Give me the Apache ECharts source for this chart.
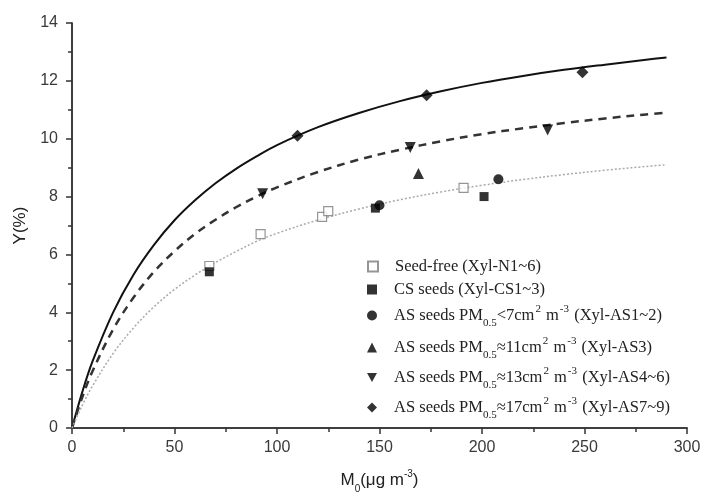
<!DOCTYPE html>
<html>
<head>
<meta charset="utf-8">
<script src="https://cdn.jsdelivr.net/npm/echarts@6/dist/echarts.min.js"></script>
<style>
  html, body { margin: 0; padding: 0; background: #fff; }
  #chart { width: 703px; height: 494px; }
</style>
</head>
<body>
<div id="chart"></div>
<script>
// Measured yields: [M0 (µg m^-3), Y (%)]
const seedFree = [[67, 5.6], [92, 6.7], [122, 7.3], [125, 7.5], [191, 8.3]];
const csSeeds  = [[67, 5.4], [148, 7.6], [201, 8.0]];
const asLt7    = [[150, 7.7], [208, 8.6]];
const as11     = [[169, 8.8]];
const as13     = [[93, 8.1], [165, 9.7], [232, 10.3]];
const as17     = [[110, 10.1], [173, 11.5], [249, 12.3]];

// Fitted yield curves sampled along M0
const curveX    = [0, 5, 10, 20, 30, 40, 50, 60, 70, 80, 90, 100, 120, 140, 160, 180, 200, 220, 240, 260, 280, 290];
const fitSolid  = [0, 1.24, 2.30, 3.99, 5.30, 6.33, 7.18, 7.87, 8.46, 8.96, 9.39, 9.78, 10.40, 10.89, 11.30, 11.64, 11.93, 12.17, 12.38, 12.56, 12.73, 12.81];
const fitDashed = [0, 1.06, 1.96, 3.40, 4.51, 5.40, 6.11, 6.71, 7.20, 7.63, 8.00, 8.32, 8.85, 9.28, 9.62, 9.91, 10.16, 10.36, 10.54, 10.70, 10.84, 10.90];
const fitDotted = [0, 0.78, 1.45, 2.57, 3.46, 4.19, 4.79, 5.29, 5.72, 6.10, 6.45, 6.73, 7.19, 7.57, 7.89, 8.16, 8.39, 8.59, 8.76, 8.91, 9.04, 9.10];

// Legend entries (rich text: s = subscript, p = superscript)
const legendNames = ['seedFree', 'cs', 'asLt7', 'as11', 'as13', 'as17'];
const legendTexts = [
  'Seed-free (Xyl-N1~6)',
  'CS seeds (Xyl-CS1~3)',
  'AS seeds PM{s|0.5}<7cm{p|2} m{p|-3} (Xyl-AS1~2)',
  'AS seeds PM{s|0.5}\u224811cm{p|2} m{p|-3} (Xyl-AS3)',
  'AS seeds PM{s|0.5}\u224813cm{p|2} m{p|-3} (Xyl-AS4~6)',
  'AS seeds PM{s|0.5}\u224817cm{p|2} m{p|-3} (Xyl-AS7~9)'
];
const legendTops = [253, 276, 299, 331, 361, 391];

const downTriangle = 'path://M0,0 L10,0 L5,9 Z';
const symbols = ['rect', 'rect', 'circle', 'triangle', downTriangle, 'diamond'];
const sizes = [9, 9, 10, 11, 11, 12];
const datasets = [seedFree, csSeeds, asLt7, as11, as13, as17];

const pair = (xs, ys) => xs.map((x, i) => [x, ys[i]]);

const serifRich = {
  s: { fontFamily: 'Liberation Serif', fontSize: 11, color: '#222', verticalAlign: 'bottom', padding: [0, 0, -5, 0] },
  p: { fontFamily: 'Liberation Serif', fontSize: 11, color: '#222', verticalAlign: 'top', padding: [-3, 1, 0, 1] }
};

const scatterSeries = datasets.map((d, i) => ({
  name: legendNames[i],
  type: 'scatter',
  data: d,
  symbol: symbols[i],
  symbolSize: sizes[i],
  itemStyle: i === 0
    ? { color: '#ffffff', borderColor: '#7a7a7a', borderWidth: 1.2 }
    : { color: '#000000' },
  z: 5
}));

const lineStyleBase = { type: 'line', showSymbol: false, symbol: 'none', smooth: 0.35, silent: true, z: 3 };
const lineSeries = [
  Object.assign({}, lineStyleBase, { data: pair(curveX, fitSolid), lineStyle: { color: '#111', width: 2, type: 'solid' } }),
  Object.assign({}, lineStyleBase, { data: pair(curveX, fitDashed), lineStyle: { color: '#333', width: 2.5, type: [8, 6] } }),
  Object.assign({}, lineStyleBase, { data: pair(curveX, fitDotted), lineStyle: { color: '#aaa', width: 1.5, type: [2, 2] } })
];

const legends = legendNames.map((n, i) => ({
  data: [n],
  left: 362,
  top: legendTops[i],
  itemWidth: 10,
  itemHeight: 10,
  selectedMode: false,
  formatter: () => legendTexts[i],
  textStyle: {
    fontFamily: 'Liberation Serif',
    fontSize: 16.5,
    color: '#222',
    padding: [0, 0, 0, 12],
    rich: serifRich
  }
}));

const axisColor = '#333';
const sansLabel = { fontFamily: 'Liberation Sans', fontSize: 16, color: '#3a3a3a' };

const option = {
  animation: false,
  backgroundColor: '#fff',
  grid: { left: 72, right: 16, top: 23, bottom: 66, containLabel: false, outerBoundsMode: 'none' },
  legend: legends,
  xAxis: [
    {
      type: 'value', min: 0, max: 300, interval: 50, position: 'bottom',
      name: 'M{s|0}(\u03bcg m{p|-3})', nameLocation: 'middle', nameGap: 44,
      nameTextStyle: {
        fontFamily: 'Liberation Sans', fontSize: 17, color: '#222',
        rich: {
          s: { fontFamily: 'Liberation Sans', fontSize: 10, color: '#222', verticalAlign: 'bottom', padding: [0, 0, -5, 0] },
          p: { fontFamily: 'Liberation Sans', fontSize: 10, color: '#222', verticalAlign: 'top', padding: [-3, 0, 0, 0] }
        }
      },
      axisLine: { lineStyle: { color: axisColor, width: 1.5 } },
      axisTick: { inside: false, length: 6, lineStyle: { color: axisColor, width: 1.5 } },
      minorTick: { show: true, splitNumber: 2, length: 4, lineStyle: { color: axisColor, width: 1.5 } },
      axisLabel: Object.assign({ margin: 12 }, sansLabel),
      splitLine: { show: false }
    },
    {
      type: 'value', min: 0, max: 300, interval: 50, position: 'top',
      axisLine: { lineStyle: { color: axisColor, width: 1.5 } },
      axisTick: { inside: true, length: 6, lineStyle: { color: axisColor, width: 1.5 } },
      minorTick: { show: true, splitNumber: 2, length: 4, lineStyle: { color: axisColor, width: 1.5 } },
      axisLabel: { show: false },
      splitLine: { show: false }
    }
  ],
  yAxis: [
    {
      type: 'value', min: 0, max: 14, interval: 2, position: 'left',
      name: 'Y(%)', nameLocation: 'middle', nameGap: 37, nameRotate: 90,
      nameTextStyle: { fontFamily: 'Liberation Sans', fontSize: 17, color: '#222' },
      axisLine: { show: true, lineStyle: { color: axisColor, width: 1.5 } },
      axisTick: { show: true, inside: false, length: 6, lineStyle: { color: axisColor, width: 1.5 } },
      minorTick: { show: true, splitNumber: 2, length: 4, lineStyle: { color: axisColor, width: 1.5 } },
      axisLabel: Object.assign({ margin: 14 }, sansLabel),
      splitLine: { show: false }
    },
    {
      type: 'value', min: 0, max: 14, interval: 2, position: 'right',
      axisLine: { show: true, lineStyle: { color: axisColor, width: 1.5 } },
      axisTick: { show: true, inside: true, length: 6, lineStyle: { color: axisColor, width: 1.5 } },
      minorTick: { show: true, splitNumber: 2, length: 4, lineStyle: { color: axisColor, width: 1.5 } },
      axisLabel: { show: false },
      splitLine: { show: false }
    }
  ],
  series: lineSeries.concat(scatterSeries)
};

const chart = echarts.init(document.getElementById('chart'), null, { renderer: 'canvas' });
chart.setOption(option);
</script>
</body>
</html>
